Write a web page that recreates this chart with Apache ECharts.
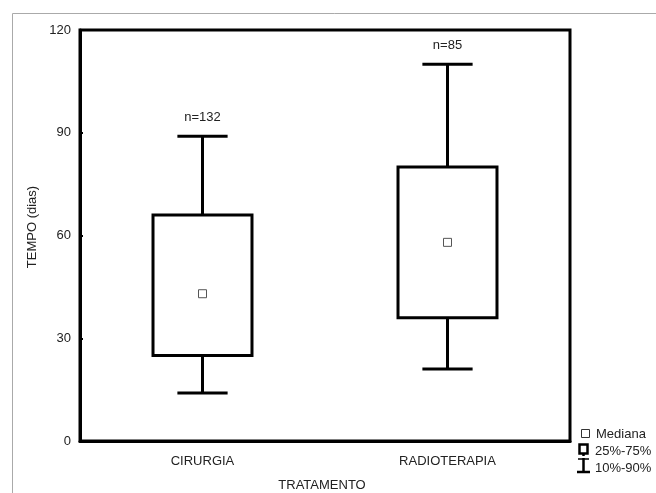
<!DOCTYPE html>
<html>
<head>
<meta charset="utf-8">
<script src="https://cdn.jsdelivr.net/npm/echarts@6/dist/echarts.min.js"></script>
<style>html,body{margin:0;padding:0;background:#fff}#c{width:656px;height:493px}</style>
</head>
<body>
<div id="c"></div>
<script>
const categories = ['CIRURGIA', 'RADIOTERAPIA'];
const p10 = [14, 21];
const q1 = [25, 36];
const median = [43, 58];
const q3 = [66, 80];
const p90 = [89, 110];
const nLabels = ['n=132', 'n=85'];
const yTicks = [0, 30, 60, 90, 120];

const FONT = 'Liberation Sans, Arial, sans-serif';
const TXT = '#222';
const FS = 13;

const data = categories.map((c, i) => [i, p10[i], q1[i], median[i], q3[i], p90[i], nLabels[i]]);

const chart = echarts.init(document.getElementById('c'));
chart.setOption({
  animation: false,
  backgroundColor: '#fff',
  grid: { left: 80, right: 86, top: 30, bottom: 52, show: true, borderColor: '#000', borderWidth: 3, backgroundColor: 'transparent' },
  xAxis: {
    type: 'category', data: categories,
    axisLine: { lineStyle: { color: '#000', width: 3 } },
    axisTick: { inside: true, length: 3, alignWithLabel: true, lineStyle: { color: '#000', width: 2 } },
    axisLabel: { margin: 14, color: TXT, fontSize: FS, fontFamily: FONT }
  },
  yAxis: {
    type: 'value', min: yTicks[0], max: yTicks[yTicks.length - 1], interval: 30,
    axisLine: { show: true, lineStyle: { color: '#000', width: 3 } },
    axisTick: { show: true, inside: true, length: 3, lineStyle: { color: '#000', width: 2 } },
    splitLine: { show: false },
    axisLabel: { margin: 9, color: TXT, fontSize: FS, fontFamily: FONT }
  },
  series: [{
    type: 'custom',
    data: data,
    encode: { x: 0, y: [1, 2, 3, 4, 5] },
    renderItem: function (params, api) {
      const x = api.value(0);
      const pLow = api.coord([x, api.value(1)]);
      const pQ1 = api.coord([x, api.value(2)]);
      const pMed = api.coord([x, api.value(3)]);
      const pQ3 = api.coord([x, api.value(4)]);
      const pHigh = api.coord([x, api.value(5)]);
      const band = api.size([1, 0])[0];
      const bw = band * 0.404;
      const cw = band * 0.205;
      const cx = pMed[0];
      const ls = { stroke: '#000', lineWidth: 3 };
      return {
        type: 'group',
        children: [
          { type: 'line', shape: { x1: cx, y1: pHigh[1], x2: cx, y2: pQ3[1] }, style: ls },
          { type: 'line', shape: { x1: cx - cw / 2, y1: pHigh[1], x2: cx + cw / 2, y2: pHigh[1] }, style: ls },
          { type: 'line', shape: { x1: cx, y1: pQ1[1], x2: cx, y2: pLow[1] }, style: ls },
          { type: 'line', shape: { x1: cx - cw / 2, y1: pLow[1], x2: cx + cw / 2, y2: pLow[1] }, style: ls },
          { type: 'rect', shape: { x: cx - bw / 2, y: pQ3[1], width: bw, height: pQ1[1] - pQ3[1] }, style: { fill: '#fff', stroke: '#000', lineWidth: 3 } },
          { type: 'rect', shape: { x: cx - 4, y: pMed[1] - 4, width: 8, height: 8 }, style: { fill: '#fff', stroke: '#555', lineWidth: 1 } },
          { type: 'text', x: cx, y: pHigh[1] - 19, style: { text: api.value(6), fill: TXT, font: FS + 'px ' + FONT, align: 'center', verticalAlign: 'middle' } }
        ]
      };
    }
  }],
  graphic: [
    { type: 'rect', shape: { x: 12.5, y: 13.5, width: 700, height: 600 }, style: { fill: 'none', stroke: '#aaa', lineWidth: 1 }, z: -1 },
    { type: 'text', x: 32, y: 227, rotation: Math.PI / 2, style: { text: 'TEMPO (dias)', fill: TXT, font: FS + 'px ' + FONT, align: 'center', verticalAlign: 'middle' } },
    { type: 'text', x: 322, y: 485, style: { text: 'TRATAMENTO', fill: TXT, font: FS + 'px ' + FONT, align: 'center', verticalAlign: 'middle' } },
    // legend
    { type: 'rect', shape: { x: 581.5, y: 429.5, width: 8, height: 8 }, style: { fill: '#fff', stroke: '#333', lineWidth: 1 } },
    { type: 'text', x: 596, y: 434, style: { text: 'Mediana', fill: TXT, font: FS + 'px ' + FONT, align: 'left', verticalAlign: 'middle' } },
    { type: 'rect', shape: { x: 579.5, y: 444.5, width: 8, height: 9 }, style: { fill: '#fff', stroke: '#000', lineWidth: 2.5 } },
    { type: 'line', shape: { x1: 583.5, y1: 453, x2: 583.5, y2: 456 }, style: { stroke: '#000', lineWidth: 2.5 } },
    { type: 'text', x: 595, y: 451, style: { text: '25%-75%', fill: TXT, font: FS + 'px ' + FONT, align: 'left', verticalAlign: 'middle' } },
    { type: 'line', shape: { x1: 583.5, y1: 458, x2: 583.5, y2: 472 }, style: { stroke: '#000', lineWidth: 2.5 } },
    { type: 'line', shape: { x1: 578, y1: 459, x2: 589, y2: 459 }, style: { stroke: '#000', lineWidth: 1.5 } },
    { type: 'line', shape: { x1: 577, y1: 472, x2: 590, y2: 472 }, style: { stroke: '#000', lineWidth: 2.5 } },
    { type: 'text', x: 595, y: 468, style: { text: '10%-90%', fill: TXT, font: FS + 'px ' + FONT, align: 'left', verticalAlign: 'middle' } }
  ]
});
</script>
</body>
</html>
